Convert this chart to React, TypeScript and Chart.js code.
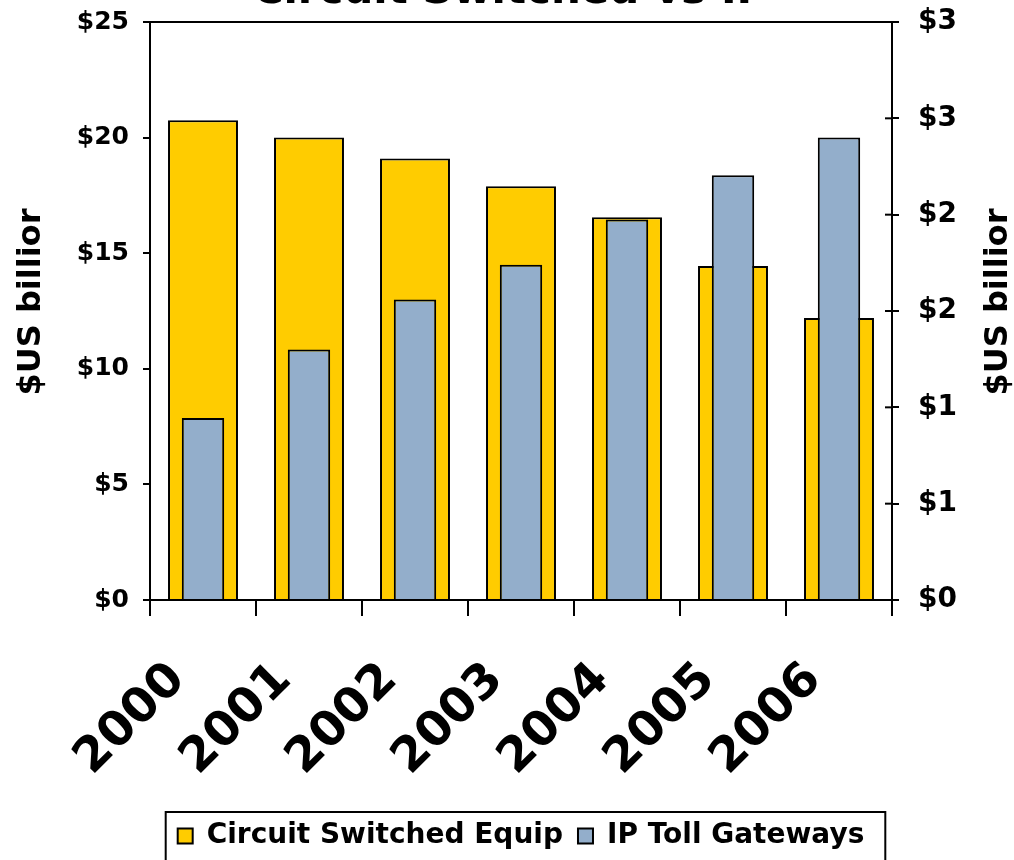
import React, { useEffect, useRef } from "react";
import { Chart, registerables } from "chart.js";

Chart.register(...registerables);

const categories = ["2000", "2001", "2002", "2003", "2004", "2005", "2006"];
const circuitSwitched = [20.75, 20.0, 19.1, 17.9, 16.55, 14.45, 12.2];
const ipTollGateways = [0.945, 1.3, 1.56, 1.74, 1.975, 2.205, 2.4];
const leftTicks = { min: 0, max: 25, step: 5 };
const rightTicks = { min: 0, max: 3, step: 0.5 };
const chartTitle = "Circuit Switched vs IP";
const axisTitle = "$US billior";

const FONT = "'DejaVu Sans', Verdana, sans-serif";

const decorPlugin = {
  id: "decor",
  afterDatasetsDraw(chart: any) {
    const { ctx, chartArea } = chart;
    ctx.save();
    ctx.strokeStyle = "#000";
    ctx.lineWidth = 2;
    ctx.strokeRect(chartArea.left, chartArea.top, chartArea.right - chartArea.left, chartArea.bottom - chartArea.top);
    const s = chart.scales.y1;
    s.ticks.forEach((_t: any, i: number) => {
      const y = s.getPixelForTick(i);
      ctx.beginPath();
      ctx.moveTo(chartArea.right - 7, y);
      ctx.lineTo(chartArea.right, y);
      ctx.stroke();
    });
    ctx.restore();
  },
  afterDraw(chart: any) {
    const { ctx, chartArea } = chart;
    ctx.save();
    ctx.fillStyle = "#000";
    // chart title (clipped at the top, as in the reference)
    ctx.font = `bold 42px ${FONT}`;
    ctx.textAlign = "center";
    ctx.textBaseline = "alphabetic";
    ctx.fillText(chartTitle, 510, 3);
    // axis titles
    ctx.font = `bold 32px ${FONT}`;
    ctx.textBaseline = "middle";
    const midY = (chartArea.top + chartArea.bottom) / 2 - 9;
    [32, 999].forEach((x) => {
      ctx.save();
      ctx.translate(x, midY);
      ctx.rotate(-Math.PI / 2);
      ctx.fillText(axisTitle, 0, 0);
      ctx.restore();
    });
    // legend frame
    const lg = chart.legend;
    if (lg && lg.legendHitBoxes && lg.legendHitBoxes.length) {
      const boxes = lg.legendHitBoxes;
      const l = Math.min(...boxes.map((b: any) => b.left)) - 12;
      const r = Math.max(...boxes.map((b: any) => b.left + b.width)) + 21;
      const cy = boxes[0].top + boxes[0].height / 2;
      const t = cy - 24;
      ctx.strokeStyle = "#000";
      ctx.lineWidth = 2;
      ctx.strokeRect(l, t, r - l, chart.height - t + 10);
    }
    ctx.restore();
  },
};

const noVPad = (s: any) => {
  s.paddingTop = 0;
  s.paddingBottom = 0;
};

export default function App() {
  const ref = useRef<HTMLCanvasElement | null>(null);
  useEffect(() => {
    if (!ref.current) return;
    const chart = new Chart(ref.current, {
      type: "bar",
      data: {
        labels: categories,
        datasets: [
          {
            label: "Circuit Switched Equip",
            data: circuitSwitched,
            yAxisID: "y",
            backgroundColor: "#FFCC00",
            borderColor: "#000",
            borderWidth: 2,
            barPercentage: 0.66,
            categoryPercentage: 1,
            grouped: false,
            order: 2,
          },
          {
            label: "IP Toll Gateways",
            data: ipTollGateways,
            yAxisID: "y1",
            backgroundColor: "#93AECB",
            borderColor: "#000",
            borderWidth: 2,
            barPercentage: 0.4,
            categoryPercentage: 1,
            grouped: false,
            order: 1,
          },
        ],
      },
      options: {
        responsive: false,
        animation: false,
        layout: { padding: { top: 22, left: 28, right: 0, bottom: 0 } },
        plugins: {
          title: { display: false },
          tooltip: { enabled: false },
          legend: {
            position: "bottom",
            fullSize: true,
            labels: {
              color: "#000",
              font: { family: FONT, size: 28, weight: "bold" },
              boxWidth: 15,
              boxHeight: 15,
              padding: 15,
              sort: (a: any, b: any) => a.datasetIndex - b.datasetIndex,
            },
          },
        },
        scales: {
          x: {
            grid: { drawOnChartArea: false, drawTicks: true, tickLength: 16, color: "#000", lineWidth: 2, offset: true },
            border: { display: false },
            ticks: {
              color: "#000",
              font: { family: FONT, size: 48, weight: "bold" },
              minRotation: 45,
              maxRotation: 45,
              padding: 36,
              labelOffset: -25,
            },
            afterFit: (s: any) => {
              s.height = 207;
              s.paddingLeft = 0;
              s.paddingRight = 0;
            },
          },
          y: {
            position: "left",
            min: leftTicks.min,
            max: leftTicks.max,
            grid: { drawOnChartArea: false, drawTicks: true, tickLength: 7, color: "#000", lineWidth: 2 },
            border: { display: false },
            ticks: {
              stepSize: leftTicks.step,
              color: "#000",
              padding: 14,
              font: { family: FONT, size: 25, weight: "bold" },
              callback: (v: any) => "$" + v,
            },
            afterFit: (s: any) => {
              s.width = 122;
              noVPad(s);
            },
          },
          y1: {
            position: "right",
            min: rightTicks.min,
            max: rightTicks.max,
            grid: { drawOnChartArea: false, drawTicks: true, tickLength: 7, color: "#000", lineWidth: 2 },
            border: { display: false },
            ticks: {
              stepSize: rightTicks.step,
              color: "#000",
              padding: 19,
              font: { family: FONT, size: 28, weight: "bold" },
              callback: (v: any) => "$" + Math.round(Number(v)),
            },
            afterFit: (s: any) => {
              s.width = 122;
              noVPad(s);
            },
          },
        },
      },
      plugins: [decorPlugin],
    });
    return () => chart.destroy();
  }, []);
  return (
    <div style={{ position: "fixed", left: 0, top: 0, width: 1014, height: 860, background: "#fff" }}>
      <canvas ref={ref} width={1014} height={860} style={{ display: "block" }} />
    </div>
  );
}
